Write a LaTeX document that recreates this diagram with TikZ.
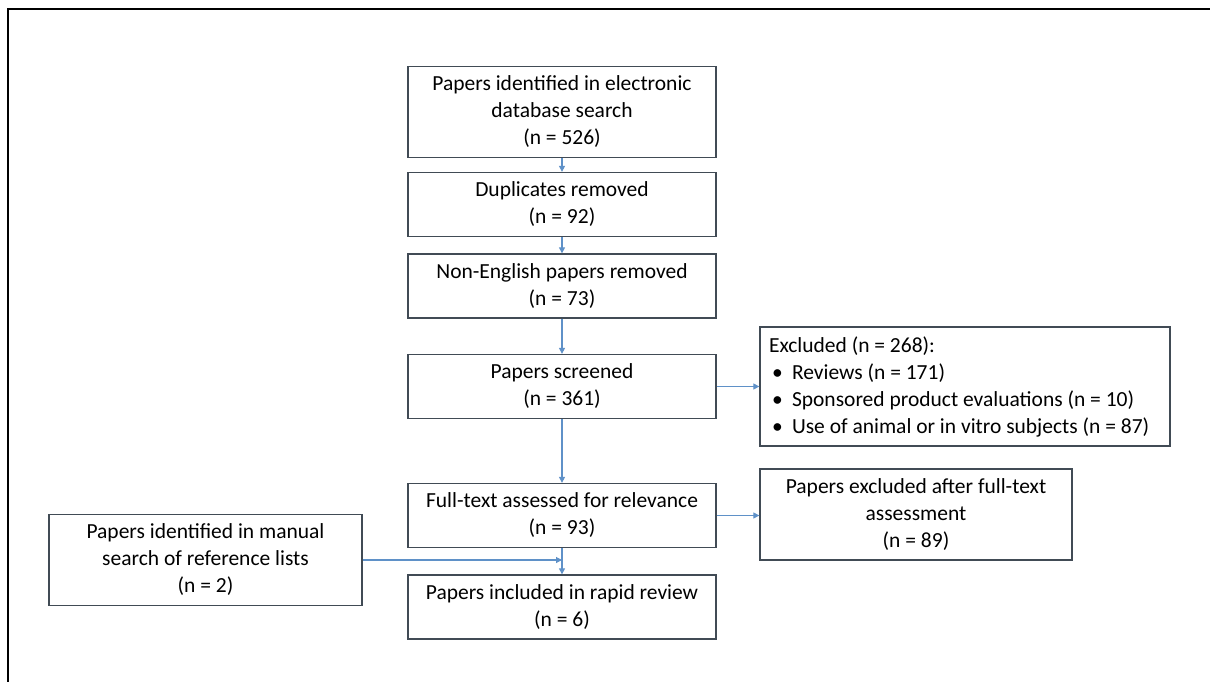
\documentclass[tikz,border=0pt]{standalone}
\usepackage{fontspec}
\setmainfont{Carlito}
\usetikzlibrary{arrows.meta,positioning}
\definecolor{flowblue}{RGB}{95,145,200}
\definecolor{boxgray}{RGB}{65,75,85}
\newcommand{\bul}{\hspace*{3pt}\makebox[20pt][l]{\textbullet}}
\begin{document}
\begin{tikzpicture}[x=1pt,y=-1pt,
    box/.style={draw=boxgray,line width=1.3pt,minimum width=308pt,minimum height=64pt,
      align=center,inner sep=0pt,font=\fontsize{21.5}{27}\selectfont},
    flow/.style={draw=flowblue,line width=1.1pt,-{Triangle[length=6pt,width=6pt]}}]
    \useasboundingbox (0,0) rectangle (1210,682);

    % Page frame, cut off at right and bottom
    \draw[line width=2.5pt] (8,682) -- (8,9) -- (1210,9);

    % Main column
    \node[box,minimum height=91pt] (ident) at (562,112) {Papers identified in electronic\\database search\\(n = 526)};
    \node[box] (dup) at (562,204.5) {Duplicates removed\\(n = 92)};
    \node[box] (nonen) at (562,286) {Non-English papers removed\\(n = 73)};
    \node[box] (screen) at (562,386.5) {Papers screened\\(n = 361)};
    \node[box] (fulltext) at (562,515.5) {Full-text assessed for relevance\\(n = 93)};
    \node[box] (incl) at (562,607) {Papers included in rapid review\\(n = 6)};

    % Side boxes
    \node[box,minimum width=410pt,minimum height=119pt,align=flush left,text width=392pt] (excl) at (965,386.5)
      {Excluded (n = 268):\\\bul Reviews (n = 171)\\\bul Sponsored product evaluations (n = 10)\\\bul Use of animal or in vitro subjects (n = 87)};
    \node[box,minimum width=312pt,minimum height=91pt] (exclft) at (916,514.5) {Papers excluded after full-text\\assessment\\(n = 89)};
    \node[box,minimum width=313pt,minimum height=91pt] (manual) at (205.5,560) {Papers identified in manual\\search of reference lists\\(n = 2)};

    % Connectors
    \draw[flow] (ident) -- (dup);
    \draw[flow] (dup) -- (nonen);
    \draw[flow] (nonen) -- (screen);
    \draw[flow] (screen) -- (fulltext);
    \draw[flow] (fulltext) -- (incl);
    \draw[flow] (screen) -- (excl);
    \draw[flow] (fulltext.east) -- (fulltext.east -| exclft.west);
    \coordinate (join) at (fulltext.south |- manual.east);
    \draw[flow] (manual.east) -- (join);
  \end{tikzpicture}
\end{document}
